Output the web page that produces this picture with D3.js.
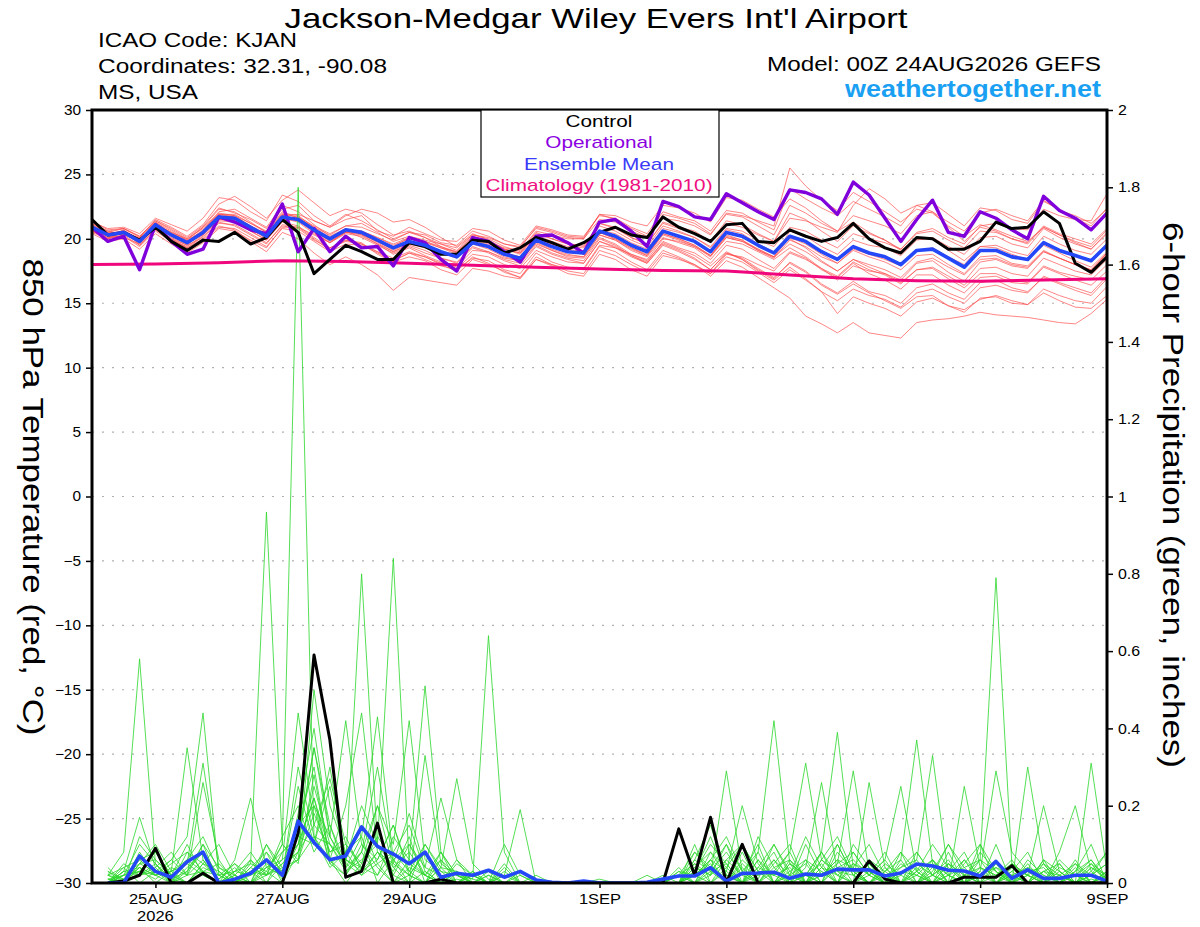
<!DOCTYPE html>
<html>
<head>
<meta charset="utf-8">
<script src="https://cdn.jsdelivr.net/npm/d3@7"></script>
<style>
  body { margin: 0; background: #fff; }
  svg text { font-family: "Liberation Sans", Arial, Helvetica, sans-serif; }
</style>
</head>
<body>
<svg id="chart" width="1200" height="927"></svg>
<script>
// --- text ---
const stationName = "Jackson-Medgar Wiley Evers Int'l Airport";
const headerLeft = ["ICAO Code: KJAN", "Coordinates: 32.31, -90.08", "MS, USA"];
const headerLeftWidths = [199, 289, 100];
const modelRun = "Model: 00Z 24AUG2026 GEFS";
const siteName = "weathertogether.net";
const legendLabels = ["Control", "Operational", "Ensemble Mean", "Climatology (1981-2010)"];
const leftTitle = "850 hPa Temperature (red, \u00B0C)";
const rightTitle = "6-hour Precipitation (green, inches)";

// --- ticks ---
const tempTicks = [-30, -25, -20, -15, -10, -5, 0, 5, 10, 15, 20, 25, 30];
const precipTicks = [0, 0.2, 0.4, 0.6, 0.8, 1, 1.2, 1.4, 1.6, 1.8, 2];
const dateTickDays = [1, 3, 5, 8, 10, 12, 14, 16]; // days after 00Z 24AUG
const dateTickLabels = ["25AUG", "27AUG", "29AUG", "1SEP", "3SEP", "5SEP", "7SEP", "9SEP"];

// --- temperature, 6-hourly from 00Z 24AUG (65 values) ---
const controlTemp = [21.5,20.3,20.5,19.9,20.9, 19.8,19.1,19.9,19.8,20.5, 19.6,20.1,21.5,20.5,17.3,
  18.4,19.5,19.0,18.4,18.4, 19.7,19.4,18.8,18.8,19.9, 19.8,18.9,19.3,20.1,19.7, 19.2,19.7,20.5,20.9,20.3,
  20.1,21.7,20.9,20.4,19.8, 21.1,21.2,19.8,19.7,20.7, 20.2,19.8,20.1,21.2,20.0, 19.3,18.9,20.1,20.0,19.2,
  19.2,19.8,21.3,20.8,20.9, 22.1,21.2,18.1,17.4,18.6];
const operTemp = [20.9,19.8,20.2,17.6,21.1, 19.8,18.8,19.2,21.7,21.3, 20.7,20.4,22.7,19.0,20.8,
  19.0,20.2,19.3,19.4,17.9, 20.1,19.7,18.4,17.5,20.1, 19.8,19.0,18.2,20.2,20.3, 19.7,18.9,21.3,21.5,20.6,
  19.4,22.9,22.5,21.7,21.5, 23.5,22.8,22.1,21.5,23.8, 23.6,23.1,21.9,24.4,23.4, 21.6,19.8,21.5,23.0,20.5,
  20.2,22.1,21.6,20.7,20.0, 23.3,22.2,21.6,20.7,22.0];
const meanTemp = [20.9,20.3,20.5,19.8,21.1, 20.3,19.7,20.5,21.7,21.6, 20.9,20.2,21.7,21.5,20.7,
  20.0,20.7,20.5,19.9,19.3, 19.8,19.5,19.0,18.6,19.7, 19.4,18.8,18.5,19.9,19.4, 19.0,18.9,20.6,20.2,19.5,
  19.0,20.6,20.2,19.8,19.0, 20.5,20.2,19.5,18.9,20.2, 19.8,19.0,18.4,19.4,18.9, 18.6,18.0,19.1,19.2,18.5,
  17.8,19.1,19.1,18.6,18.4, 19.7,19.1,18.7,18.3,19.5];
// daily at 00Z
const climoTemp = [18.0,18.05,18.15,18.3,18.25,18.1,17.95,17.8,17.65,17.55,17.5,17.2,16.9,16.75,16.7,16.8,16.9];

const ensembleTemp = [
  [21.2,20.6,20.3,20.1,21.4, 20.8,20.1,21.0,22.4,22.0, 21.5,20.8,22.3,22.6,21.4, 20.9,21.5,21.8,20.6,20.2, 20.9,20.4,19.9,19.8,20.8, 20.6,19.9,19.5,21.0,20.7, 20.3,20.2,21.8,21.6,20.9, 20.4,22.1,21.7,21.4,20.6, 22.2,22.0,21.3,20.7,23.9, 23.1,22.4,21.8,22.9,22.3, 21.7,21.0,22.6,22.8,21.9, 21.0,22.4,22.2,21.5,21.2, 22.9,22.3,21.6,21.0,22.4],
  [20.6,20.0,20.7,19.5,20.8, 19.9,19.3,20.2,21.2,21.1, 20.4,19.7,21.0,20.8,19.9, 19.3,19.8,19.6,19.0,18.3, 18.9,18.4,17.9,17.6,18.5, 18.3,17.6,17.3,18.9,18.2, 17.8,17.6,19.4,19.0,18.2, 17.6,19.1,18.6,18.0,17.1, 18.3,17.8,17.0,16.2,15.4, 14.0,13.4,12.7,13.5,12.7, 12.5,12.3,13.5,13.7,13.8, 14.0,14.3,14.1,14.0,13.9, 13.7,13.5,13.4,14.2,15.3],
  [20.7,20.2,20.1,19.6,20.9, 20.0,19.5,20.1,21.3,21.0, 20.3,19.6,21.1,20.9,20.0, 19.1,19.9,19.7,18.8,18.2, 18.6,18.3,17.6,17.2,18.4, 18.0,17.5,17.0,18.6,18.0, 17.5,17.3,19.1,18.7,18.0, 17.4,18.9,18.5,17.9,17.3, 18.6,18.2,17.4,16.6,17.6, 16.8,15.9,14.2,15.5,15.0, 14.6,14.0,15.1,15.4,14.8, 14.5,15.3,15.6,15.2,14.9, 15.8,15.2,14.7,14.6,15.6],
  [21.0,20.4,20.6,20.0,21.2, 20.5,19.9,20.6,21.9,21.8, 21.0,20.3,21.9,21.4,20.5, 19.7,20.6,20.1,19.5,18.9, 19.4,18.9,18.5,18.1,19.3, 18.9,18.3,17.9,19.4,18.8, 18.4,18.1,19.8,19.3,18.6, 18.1,19.5,19.0,18.4,17.6, 18.9,18.4,17.6,16.9,18.2, 17.5,16.5,15.8,16.7,15.9, 15.6,15.0,16.2,16.5,15.8, 15.3,16.6,16.8,16.2,15.9, 17.0,16.5,16.0,15.6,16.9],
  [21.3,20.8,20.9,20.4,21.6, 21.1,20.6,21.6,23.2,23.0, 22.1,21.4,23.4,22.9,21.8, 21.0,21.9,21.4,20.7,20.0, 20.5,20.1,19.6,19.1,20.3, 20.0,19.4,19.0,20.5,20.0, 19.6,19.4,21.2,20.9,20.1, 19.6,21.3,20.9,20.6,19.8, 21.4,21.1,20.4,19.8,22.0, 21.5,20.6,19.8,21.0,20.4, 19.9,19.2,20.4,20.6,19.9, 19.3,20.6,20.5,20.0,19.7, 21.0,20.4,20.0,19.6,20.8],
  [20.8,20.1,20.4,19.7,21.0, 20.2,19.6,20.4,21.5,21.5, 20.7,20.1,21.5,21.7,21.0, 20.4,21.0,21.2,20.5,19.8, 20.2,19.9,19.6,19.3,20.3, 20.1,19.6,19.4,20.8,20.5, 20.1,20.0,21.5,21.3,20.6, 20.1,21.6,21.4,21.0,20.3, 22.0,21.8,21.4,21.0,25.5, 24.1,23.0,22.2,23.6,22.9, 22.1,21.3,22.3,22.0,21.0, 20.2,21.1,20.7,20.2,19.8, 20.9,20.3,19.7,19.2,20.4],
  [20.5,20.0,20.3,19.9,20.7, 20.1,19.5,20.6,22.1,22.3, 21.6,20.9,22.6,22.1,21.1, 20.2,20.8,20.3,19.6,18.8, 19.3,18.7,18.2,17.8,19.1, 19.0,18.5,18.3,19.7,19.1, 18.7,18.6,20.3,19.9,19.1, 18.6,20.1,19.7,19.3,18.4, 19.8,19.6,19.0,18.4,19.3, 18.6,17.7,16.8,17.9,17.5, 17.3,16.8,18.1,18.3,17.4, 16.7,18.2,18.4,17.9,17.7, 19.0,18.5,18.0,17.4,18.9],
  [21.1,20.5,20.8,20.2,21.3, 20.4,19.8,20.3,21.4,21.3, 20.6,19.9,21.4,21.6,20.9, 20.3,21.0,20.9,20.4,19.9, 20.5,20.3,19.7,19.5,20.6, 20.2,19.6,19.3,20.9,20.6, 20.2,20.1,21.9,21.5,20.8, 20.2,21.9,21.6,21.2,20.4, 21.9,21.7,21.0,20.3,22.6, 22.0,21.2,20.6,21.8,21.4, 21.0,20.4,21.8,22.1,21.3, 20.6,22.0,22.3,21.8,21.4, 23.0,22.2,21.8,21.2,22.3],
  [20.6,20.1,20.2,19.4,20.6, 19.8,19.2,19.9,20.9,20.8, 20.1,19.4,20.8,20.6,19.8, 19.0,19.6,19.5,18.9,18.3, 18.9,18.6,18.1,17.7,18.8, 18.6,18.0,17.7,19.1,18.6, 18.2,18.1,19.8,19.4,18.7, 18.2,19.8,19.3,18.9,18.1, 19.5,19.2,18.4,17.7,19.0, 18.5,17.6,17.0,18.1,17.3, 16.8,16.1,17.2,17.2,16.4, 15.8,17.0,17.1,16.6,16.5, 17.8,17.3,16.8,16.4,17.5],
  [21.0,20.3,20.6,19.6,20.9, 20.0,19.3,20.0,21.0,20.7, 19.8,19.0,20.5,20.0,18.9, 18.0,18.6,18.0,17.2,16.0, 17.0,16.8,16.6,16.4,17.7, 17.5,17.1,16.9,18.4,18.0, 17.7,17.7,19.5,19.3,18.8, 18.4,20.0,19.8,19.4,18.7, 20.1,19.8,19.2,18.6,19.6, 19.0,18.2,17.5,18.4,18.0, 17.6,17.0,18.2,18.5,17.8, 17.2,18.4,18.5,18.0,17.8, 19.0,18.5,18.0,17.6,18.9],
  [21.2,20.6,20.8,20.1,21.5, 20.9,20.2,21.1,22.7,23.3, 22.5,21.6,23.0,23.8,22.8, 21.8,22.3,22.0,21.1,20.3, 20.6,20.1,19.4,18.9,19.9, 19.5,18.8,18.4,19.8,19.2, 18.8,18.6,20.3,19.9,19.2, 18.7,20.3,19.9,19.4,18.6, 20.1,19.8,19.1,18.5,19.9, 19.4,18.6,18.1,19.2,18.8, 18.4,17.9,19.1,19.3,18.6, 18.0,19.4,19.5,19.0,18.7, 20.2,19.6,19.1,18.8,20.0],
  [20.9,20.2,20.4,19.8,21.0, 20.2,19.6,20.4,21.6,21.4, 20.8,20.0,21.6,21.3,20.4, 19.7,20.4,20.2,19.6,19.0, 19.6,19.3,18.9,18.7,19.9, 19.8,19.3,19.1,20.6,20.3, 20.0,20.0,21.9,21.8,21.3, 21.0,22.6,22.4,22.0,21.3, 23.2,23.0,22.3,21.7,23.1, 22.4,21.4,20.6,21.3,20.5, 19.9,19.1,20.0,20.0,19.1, 18.3,19.4,19.3,18.8,18.4, 19.5,18.9,18.3,17.8,19.0],
  [20.8,20.4,20.5,19.9,21.2, 20.4,19.8,20.7,21.9,21.9, 21.2,20.5,22.0,21.8,20.9, 20.1,20.7,20.4,19.7,19.0, 19.5,19.1,18.5,18.2,19.4, 19.0,18.4,18.1,19.5,18.9, 18.5,18.3,20.0,19.5,18.7, 18.1,19.6,19.1,18.5,17.6, 18.9,18.5,17.7,17.0,18.1, 17.4,16.4,15.7,16.5,15.8, 15.2,14.6,15.5,15.6,14.8, 14.3,15.4,15.5,15.0,14.9, 16.1,15.6,15.2,15.0,16.3],
  [21.0,20.2,20.7,19.9,21.3, 20.6,19.9,20.9,22.0,21.8, 21.2,20.6,22.1,21.6,20.6, 19.8,20.5,20.3,19.8,19.4, 20.1,19.7,19.3,18.8,20.0, 19.6,18.9,18.6,20.1,19.5, 19.0,18.8,20.5,20.0,19.3, 18.7,20.4,20.0,19.5,18.7, 20.3,19.9,19.1,18.6,20.6, 20.2,19.4,18.8,19.9,19.5, 19.3,18.7,19.9,20.1,19.4, 18.8,20.1,20.2,19.6,19.3, 20.8,20.1,19.6,19.2,20.5],
  [20.7,20.3,20.6,20.0,21.1, 20.5,20.0,20.9,22.3,22.1, 21.3,20.5,21.9,21.7,20.8, 20.0,20.7,20.6,20.1,19.6, 20.1,19.8,19.3,19.0,20.1, 19.8,19.2,18.9,20.4,20.0, 19.6,19.5,21.2,20.8,20.1, 19.6,21.2,20.8,20.4,19.7, 21.2,20.9,20.3,19.8,21.6, 21.4,20.9,20.5,22.6,23.9, 23.1,22.0,22.6,22.1,20.9, 19.8,20.9,20.6,20.0,19.6, 20.9,20.3,19.8,19.4,20.7],
  [20.6,20.0,20.3,19.5,20.7, 19.9,19.4,20.3,21.5,21.4, 20.6,19.9,21.3,21.0,20.1, 19.3,19.9,19.6,19.0,18.5, 19.0,18.6,18.0,17.5,18.6, 18.1,17.4,17.0,18.4,17.9, 17.3,17.1,18.8,18.4,17.6, 17.1,18.7,18.4,18.0,17.3, 18.8,18.6,18.0,17.5,18.9, 18.4,17.7,17.1,18.2,17.6, 17.2,16.5,17.6,17.8,17.1, 16.4,17.7,17.8,17.3,17.1, 18.5,18.0,17.5,17.2,18.4],
  [21.4,20.7,20.8,20.2,21.4, 20.7,20.0,20.8,21.9,21.7, 21.0,20.3,21.8,21.5,20.6, 19.9,20.6,20.4,19.8,19.1, 19.7,19.4,19.0,18.6,19.8, 19.4,18.9,18.6,20.1,19.6, 19.2,19.0,20.7,20.4,19.7, 19.2,20.8,20.5,20.1,19.4, 20.8,20.6,19.9,19.4,20.9, 20.6,19.9,19.3,20.4,20.0, 19.7,19.2,20.5,20.8,20.1, 19.6,21.0,21.2,20.8,20.7, 22.3,21.8,21.5,21.4,23.5],
  [20.4,19.8,20.0,19.2,20.4, 19.6,18.9,19.7,20.8,20.6, 19.9,19.3,20.9,20.9,20.3, 19.7,20.5,20.6,20.1,19.5, 20.0,19.8,19.4,19.0,20.2, 19.8,19.2,18.9,20.3,19.8, 19.4,19.3,21.0,20.6,19.9, 19.4,21.0,20.6,20.1,19.3, 20.7,20.4,19.6,19.0,20.0, 19.3,18.3,17.5,18.4,17.8, 17.3,16.6,17.6,17.7,16.9, 16.2,17.3,17.3,16.8,16.6, 17.9,17.4,17.1,16.8,18.0],
  [21.1,20.5,20.5,19.9,21.2, 20.4,19.8,20.6,21.8,21.7, 21.0,20.4,21.8,21.9,21.4, 20.9,21.8,22.3,22.0,21.3, 21.5,20.9,20.1,19.4,20.4, 19.9,19.2,18.8,20.2,19.6, 19.1,18.9,20.5,20.0,19.3, 18.8,20.4,20.0,19.5,18.7, 20.2,19.9,19.2,18.6,20.1, 19.6,18.8,18.1,19.1,18.6, 18.2,17.6,18.7,18.8,18.0, 17.3,18.6,18.7,18.1,17.9, 19.1,18.5,18.0,17.6,18.9],
  [20.9,20.4,20.6,20.0,21.1, 20.3,19.7,20.5,21.6,21.6, 20.9,20.2,21.6,21.4,20.6, 19.9,20.5,20.4,19.8,19.2, 19.7,19.4,18.9,18.5,19.6, 19.2,18.6,18.3,19.6,19.1, 18.6,18.5,20.1,19.6,18.8, 18.3,19.7,19.2,18.7,17.9, 19.0,18.4,17.5,16.8,17.8, 16.9,15.9,15.2,16.1,15.6, 15.3,14.7,15.8,16.1,15.5, 15.0,16.2,16.4,16.0,15.8, 17.1,16.6,16.2,15.8,17.1]
];

// --- 6-hour precipitation, from 06Z 24AUG (64 values) ---
const controlPrecip = [0,0.005,0.02,0.09,0,0,0.025,0, 0,0,0,0,0.13,0.59,0.37,0.015,
  0.03,0.155,0,0,0,0.01,0,0, 0,0,0,0,0,0,0,0, 0,0,0,0,0.14,0.02,0.17,0,
  0.10,0,0,0,0,0,0,0, 0.057,0.01,0,0,0,0,0.015,0.015, 0.015,0.045,0,0,0,0,0,0];
const meanPrecip = [0,0,0.07,0.03,0.015,0.055,0.08,0, 0.01,0.025,0.06,0.02,0.16,0.105,0.06,0.07,
  0.145,0.095,0.075,0.05,0.08,0.015,0.025,0.02, 0.033,0.015,0.03,0.008,0.002,0,0.005,0,
  0,0,0.002,0.01,0.018,0.018,0.04,0.005, 0.025,0.026,0.028,0.012,0.023,0.02,0.036,0.034,
  0.034,0.018,0.026,0.049,0.044,0.033,0.031,0.018, 0.056,0.012,0.034,0.012,0.012,0.02,0.02,0.005];

const ensemblePrecip = [
  [0.02,0.08,0.58,0.05,0.01,0.03,0.10,0.00, 0.00,0.02,0.06,0.01,0.15,0.20,0.05,0.02, 0.10,0.04,0.00,0.02,0.08,0.01,0.00,0.00, 0.02,0,0,0,0,0,0,0, 0,0,0,0,0.02,0.08,0.03,0.00, 0.05,0.01,0.10,0.02,0.00,0.06,0.12,0.03, 0.00,0.04,0.00,0.08,0.02,0.00,0.05,0.10, 0.03,0.00,0.30,0.05,0.00,0.02,0.06,0.01],
  [0.00,0.03,0.17,0.04,0.00,0.08,0.05,0.01, 0.04,0.00,0.10,0.02,0.30,0.12,0.06,0.00, 0.05,0.15,0.02,0.00,0.03,0.00,0.01,0.00, 0,0,0,0,0,0,0,0, 0,0,0,0,0.00,0.03,0.10,0.05, 0.00,0.12,0.04,0.00,0.02,0.00,0.05,0.08, 0.02,0.00,0.00,0.03,0.10,0.04,0.00,0.02, 0.06,0.00,0.02,0.20,0.03,0.00,0.01,0.00],
  [0.01,0.00,0.12,0.06,0.02,0.00,0.03,0.00, 0.00,0.05,0.03,0.00,0.08,0.25,0.10,0.04, 0.12,0.00,0.06,0.10,0.02,0.00,0.00,0.03, 0,0,0,0,0,0,0,0.01, 0,0,0,0,0.04,0.00,0.02,0.06, 0.10,0.03,0.00,0.05,0.02,0.08,0.00,0.04, 0.10,0.02,0.00,0.00,0.06,0.02,0.04,0.00, 0.00,0.05,0.02,0.00,0.08,0.20,0.03,0.00],
  [0.00,0.02,0.05,0.10,0.03,0.35,0.06,0.00, 0.02,0.00,0.04,0.08,0.12,0.35,0.15,0.03, 0.06,0.10,0.00,0.04,0.02,0.00,0.03,0.01, 0.64,0.08,0,0,0,0,0,0, 0,0,0,0,0.00,0.02,0.05,0.00, 0.08,0.00,0.00,0.03,0.06,0.00,0.10,0.02, 0.00,0.00,0.05,0.02,0.00,0.08,0.00,0.03, 0.00,0.02,0.00,0.06,0.00,0.00,0.04,0.01],
  [0.00,0.01,0.03,0.02,0.06,0.12,0.44,0.02, 0.00,0.03,0.00,0.05,0.10,0.22,0.08,0.12, 0.03,0.06,0.15,0.02,0.00,0.04,0.00,0.00, 0.00,0.10,0.02,0,0,0,0,0, 0,0,0,0,0.00,0.06,0.15,0.02, 0.00,0.03,0.08,0.00,0.02,0.05,0.00,0.10, 0.04,0.00,0.03,0.00,0.02,0.00,0.06,0.02, 0.00,0.04,0.02,0.00,0.05,0.00,0.31,0.03],
  [0.03,0.01,0.06,0.08,0.02,0.05,0.31,0.04, 0.01,0.00,0.02,0.10,0.05,0.28,0.06,0.02, 0.08,0.20,0.04,0.00,0.10,0.03,0.00,0.02, 0.00,0.02,0.19,0,0,0,0,0, 0,0,0,0,0.03,0.00,0.08,0.04, 0.00,0.06,0.00,0.02,0.12,0.04,0.00,0.00, 0.06,0.03,0.00,0.02,0.00,0.05,0.02,0.00, 0.10,0.00,0.03,0.00,0.02,0.05,0.00,0.02],
  [0.00,0.02,0.10,0.05,0.00,0.02,0.26,0.06, 0.00,0.04,0.08,0.00,0.18,0.40,0.12,0.05, 0.02,0.08,0.03,0.12,0.00,0.06,0.02,0.00, 0,0,0,0,0,0,0,0, 0,0,0,0,0.00,0.05,0.02,0.29, 0.03,0.00,0.05,0.10,0.00,0.02,0.06,0.00, 0.03,0.00,0.08,0.03,0.00,0.02,0.00,0.04, 0.02,0.00,0.00,0.03,0.05,0.00,0.02,0.00],
  [0.02,0.00,0.04,0.02,0.05,0.08,0.03,0.00, 0.06,0.22,0.04,0.02,0.25,0.10,0.30,0.06, 0.04,0.02,0.08,0.15,0.03,0.00,0.05,0.02, 0.00,0.04,0,0,0,0,0,0, 0,0,0,0.02,0.00,0.10,0.00,0.03, 0.20,0.05,0.00,0.06,0.02,0.00,0.08,0.03, 0.00,0.05,0.02,0.00,0.04,0.00,0.00,0.06, 0.03,0.00,0.05,0.00,0.00,0.03,0.10,0.00],
  [0.00,0.05,0.02,0.03,0.00,0.04,0.08,0.02, 0.03,0.05,0.96,0.10,0.06,0.50,0.20,0.08, 0.15,0.05,0.00,0.06,0.02,0.08,0.00,0.00, 0.02,0,0,0,0,0,0,0, 0,0,0,0,0.02,0.00,0.04,0.10, 0.00,0.08,0.42,0.05,0.00,0.03,0.00,0.05, 0.02,0.00,0.06,0.00,0.03,0.10,0.02,0.00, 0.05,0.00,0.04,0.02,0.00,0.06,0.00,0.03],
  [0.01,0.00,0.08,0.02,0.03,0.00,0.05,0.10, 0.02,0.00,0.03,0.10,1.80,0.12,0.10,0.03, 0.08,0.30,0.05,0.02,0.00,0.04,0.03,0.00, 0,0,0,0,0,0,0,0, 0,0,0,0,0.00,0.02,0.06,0.00, 0.04,0.00,0.03,0.08,0.31,0.06,0.02,0.00, 0.05,0.02,0.00,0.04,0.00,0.02,0.06,0.00, 0.00,0.03,0.00,0.05,0.02,0.00,0.03,0.08],
  [0.04,0.00,0.05,0.06,0.02,0.10,0.02,0.00, 0.03,0.08,0.02,0.06,0.44,0.15,0.27,0.10, 0.04,0.12,0.06,0.00,0.33,0.05,0.02,0.01, 0.00,0.00,0.03,0,0,0,0,0, 0,0,0,0,0.00,0.04,0.08,0.02, 0.00,0.02,0.06,0.00,0.04,0.26,0.03,0.00, 0.02,0.06,0.00,0.00,0.05,0.02,0.00,0.10, 0.00,0.04,0.02,0.00,0.03,0.00,0.02,0.05],
  [0.00,0.03,0.02,0.04,0.08,0.02,0.06,0.01, 0.05,0.02,0.10,0.04,0.08,0.20,0.12,0.42, 0.10,0.06,0.15,0.03,0.00,0.08,0.02,0.00, 0.00,0.03,0,0,0,0,0,0, 0,0,0,0,0.03,0.02,0.00,0.06, 0.02,0.10,0.00,0.05,0.02,0.08,0.39,0.04, 0.00,0.03,0.08,0.00,0.02,0.06,0.00,0.02, 0.04,0.00,0.06,0.02,0.00,0.04,0.00,0.02],
  [0.02,0.01,0.04,0.00,0.03,0.06,0.12,0.03, 0.00,0.06,0.02,0.12,0.20,0.08,0.15,0.05, 0.80,0.10,0.04,0.08,0.02,0.00,0.06,0.00, 0,0,0,0.02,0,0,0,0, 0,0,0,0,0.00,0.08,0.04,0.00, 0.06,0.02,0.03,0.00,0.10,0.02,0.05,0.29, 0.03,0.00,0.02,0.06,0.00,0.03,0.08,0.00, 0.02,0.06,0.00,0.03,0.00,0.02,0.05,0.00],
  [0.00,0.04,0.06,0.02,0.00,0.03,0.08,0.00, 0.02,0.00,0.05,0.03,0.15,0.30,0.06,0.20, 0.44,0.08,0.02,0.10,0.04,0.02,0.00,0.03, 0,0,0,0,0,0,0,0, 0,0,0,0,0.02,0.00,0.06,0.12, 0.03,0.00,0.04,0.06,0.00,0.08,0.02,0.00, 0.26,0.04,0.00,0.03,0.06,0.00,0.02,0.04, 0.00,0.03,0.08,0.00,0.02,0.00,0.04,0.02],
  [0.01,0.02,0.03,0.08,0.02,0.00,0.04,0.02, 0.00,0.03,0.06,0.02,0.10,0.22,0.05,0.08, 0.12,0.43,0.06,0.02,0.08,0.00,0.03,0.00, 0.00,0.02,0,0,0,0,0,0, 0,0,0,0,0.00,0.03,0.12,0.02, 0.00,0.04,0.02,0.00,0.06,0.03,0.00,0.08, 0.02,0.06,0.25,0.03,0.00,0.05,0.02,0.00, 0.04,0.02,0.00,0.06,0.03,0.00,0.02,0.05],
  [0.00,0.00,0.05,0.03,0.06,0.02,0.10,0.04, 0.02,0.06,0.00,0.08,0.12,0.10,0.25,0.06, 0.20,0.10,0.84,0.05,0.02,0.06,0.00,0.02, 0,0,0,0,0,0,0,0, 0,0,0,0,0.00,0.00,0.03,0.08, 0.02,0.00,0.06,0.02,0.00,0.04,0.10,0.02, 0.00,0.03,0.06,0.37,0.05,0.00,0.02,0.06, 0.00,0.02,0.04,0.00,0.06,0.02,0.00,0.03],
  [0.03,0.00,0.02,0.05,0.00,0.06,0.03,0.02, 0.05,0.00,0.08,0.03,0.06,0.18,0.08,0.10, 0.05,0.20,0.10,0.42,0.06,0.03,0.02,0.00, 0.03,0,0,0,0,0,0,0, 0,0,0,0,0.02,0.05,0.00,0.04, 0.10,0.03,0.02,0.08,0.00,0.02,0.06,0.04, 0.00,0.02,0.04,0.06,0.33,0.02,0.00,0.08, 0.03,0.00,0.02,0.05,0.00,0.03,0.06,0.00],
  [0.00,0.03,0.04,0.02,0.03,0.05,0.02,0.00, 0.03,0.02,0.04,0.06,0.10,0.35,0.12,0.04, 0.08,0.02,0.12,0.06,0.51,0.08,0.02,0.00, 0,0,0,0,0,0,0,0, 0,0,0,0,0.00,0.02,0.06,0.03, 0.00,0.06,0.02,0.04,0.00,0.06,0.03,0.02, 0.05,0.00,0.03,0.02,0.06,0.00,0.25,0.04, 0.02,0.05,0.00,0.03,0.02,0.00,0.05,0.02],
  [0.02,0.04,0.00,0.03,0.01,0.00,0.05,0.03, 0.00,0.04,0.02,0.05,0.08,0.15,0.10,0.06, 0.03,0.08,0.05,0.18,0.04,0.22,0.06,0.02, 0.00,0.05,0,0,0,0,0,0, 0,0,0.02,0,0.00,0.04,0.02,0.10, 0.03,0.08,0.00,0.02,0.05,0.00,0.04,0.06, 0.02,0.08,0.00,0.05,0.02,0.10,0.04,0.06, 0.79,0.05,0.02,0.00,0.04,0.02,0.00,0.03],
  [0.00,0.02,0.03,0.01,0.04,0.02,0.03,0.05, 0.01,0.03,0.02,0.04,0.06,0.12,0.04,0.08, 0.02,0.05,0.08,0.03,0.10,0.04,0.27,0.05, 0.01,0.00,0.02,0,0,0,0,0, 0,0,0,0,0.00,0.06,0.03,0.05, 0.00,0.04,0.10,0.03,0.00,0.04,0.02,0.05, 0.03,0.00,0.04,0.08,0.02,0.05,0.00,0.03, 0.29,0.08,0.03,0.04,0.00,0.05,0.02,0.08]
];

// --- colours ---
const colControl = '#000000';
const colOper = '#8000dc';
const colMean = '#2448f8';
const colClimo = '#f0067c';
const colEnsTemp = '#ff4a4a';
const colEnsPrecip = '#2cd82c';
const legendColors = ['#000000', '#8a00e0', '#3a3af8', '#ee1080'];

// --- layout ---
const plot = { left: 92, right: 1107, top: 110, bottom: 883 };
const runStart = Date.UTC(2026, 7, 24, 0);
const stepMs = 6 * 3600 * 1000;
const timeAt = i => new Date(runStart + i * stepMs);

// the original lettering is wider than Liberation Sans at the same height
function fitWidth(sel, width) {
  sel.attr('textLength', width).attr('lengthAdjust', 'spacingAndGlyphs');
}
function widen(sel, factor) {
  sel.each(function() {
    const w = this.getComputedTextLength();
    d3.select(this).attr('textLength', w * factor).attr('lengthAdjust', 'spacingAndGlyphs');
  });
}

const svg = d3.select('#chart');

const x = d3.scaleUtc()
  .domain([timeAt(0), timeAt(64)])
  .range([plot.left, plot.right]);
const yT = d3.scaleLinear().domain([-30, 30]).range([plot.bottom, plot.top]);
const yP = d3.scaleLinear().domain([0, 2]).range([plot.bottom, plot.top]);

svg.append('defs').append('clipPath').attr('id', 'plotClip')
  .append('rect')
  .attr('x', plot.left).attr('y', plot.top)
  .attr('width', plot.right - plot.left).attr('height', plot.bottom - plot.top);

// dotted grid at temperature ticks
svg.append('g')
  .selectAll('line')
  .data(tempTicks.filter(t => t > -30 && t < 30))
  .enter()
  .append('line')
  .attr('x1', plot.left).attr('x2', plot.right)
  .attr('y1', d => yT(d)).attr('y2', d => yT(d))
  .attr('stroke', '#b0b0b0')
  .attr('stroke-width', 1.2)
  .attr('stroke-dasharray', '2,8');

const lines = svg.append('g').attr('clip-path', 'url(#plotClip)');

function drawSeries(values, start, every, yScale, color, width, opacity) {
  const line = d3.line()
    .x((d, i) => x(timeAt(start + i * every)))
    .y(d => yScale(d));
  lines.append('path')
    .datum(values)
    .attr('d', line)
    .attr('fill', 'none')
    .attr('stroke', color)
    .attr('stroke-width', width)
    .attr('stroke-opacity', opacity)
    .attr('stroke-linejoin', 'round');
}

ensembleTemp.forEach(m => drawSeries(m, 0, 1, yT, colEnsTemp, 0.9, 0.75));
ensemblePrecip.forEach(m => drawSeries(m, 1, 1, yP, colEnsPrecip, 0.9, 0.9));

drawSeries(climoTemp, 0, 4, yT, colClimo, 3, 1);
drawSeries(operTemp, 0, 1, yT, colOper, 3.4, 1);
drawSeries(controlTemp, 0, 1, yT, colControl, 3, 1);
drawSeries(meanTemp, 0, 1, yT, colMean, 3.6, 1);
drawSeries(controlPrecip, 1, 1, yP, colControl, 3, 1);
drawSeries(meanPrecip, 1, 1, yP, colMean, 3.6, 1);

// axes
const leftAxis = d3.axisLeft(yT).tickValues(tempTicks).tickSize(6).tickPadding(5);
const rightAxis = d3.axisRight(yP).tickValues(precipTicks).tickSize(6).tickPadding(5)
  .tickFormat(d => String(+d.toFixed(1)));
const bottomAxis = d3.axisBottom(x)
  .tickValues(dateTickDays.map(d => timeAt(d * 4)))
  .tickFormat((d, i) => dateTickLabels[i])
  .tickSize(5).tickPadding(5);

function styleAxis(g, size) {
  g.select('.domain').remove();
  g.selectAll('.tick line').attr('stroke', '#000').attr('stroke-width', 1.5);
  g.selectAll('.tick text').attr('fill', '#000').style('font-size', size + 'px');
  widen(g.selectAll('.tick text'), 1.1);
}

svg.append('g').attr('transform', `translate(${plot.left},0)`).call(leftAxis).call(g => styleAxis(g, 14));
svg.append('g').attr('transform', `translate(${plot.right},0)`).call(rightAxis).call(g => styleAxis(g, 14.5));
svg.append('g').attr('transform', `translate(0,${plot.bottom})`).call(bottomAxis).call(g => styleAxis(g, 15));

svg.append('text')
  .attr('x', x(timeAt(dateTickDays[0] * 4)))
  .attr('y', 921)
  .attr('text-anchor', 'middle')
  .style('font-size', '15px')
  .text('2026')
  .call(t => widen(t, 1.1));

// frame
svg.append('rect')
  .attr('x', plot.left).attr('y', plot.top)
  .attr('width', plot.right - plot.left).attr('height', plot.bottom - plot.top)
  .attr('fill', 'none').attr('stroke', '#000').attr('stroke-width', 3);

// legend
svg.append('rect')
  .attr('x', 481).attr('y', plot.top)
  .attr('width', 238).attr('height', 87)
  .attr('fill', '#fff').attr('stroke', '#000').attr('stroke-width', 1.2);

svg.append('g')
  .selectAll('text')
  .data(legendLabels)
  .enter()
  .append('text')
  .attr('x', 599)
  .attr('y', (d, i) => 127 + i * 21.3)
  .attr('text-anchor', 'middle')
  .attr('fill', (d, i) => legendColors[i])
  .style('font-size', '17px')
  .text(d => d)
  .call(t => widen(t, 1.22));

// header
svg.append('text')
  .attr('x', 596).attr('y', 28)
  .attr('text-anchor', 'middle')
  .style('font-size', '28px')
  .text(stationName)
  .call(t => fitWidth(t, 623));

svg.append('g')
  .selectAll('text')
  .data(headerLeft)
  .enter()
  .append('text')
  .attr('x', 98)
  .attr('y', (d, i) => 47 + i * 26)
  .style('font-size', '20px')
  .text(d => d)
  .each(function(d, i) { fitWidth(d3.select(this), headerLeftWidths[i]); });

svg.append('text')
  .attr('x', 1101).attr('y', 71)
  .attr('text-anchor', 'end')
  .style('font-size', '20px')
  .text(modelRun)
  .call(t => fitWidth(t, 334));

svg.append('text')
  .attr('x', 1101).attr('y', 97)
  .attr('text-anchor', 'end')
  .attr('fill', '#19a0f2')
  .style('font-size', '23px')
  .style('font-weight', 'bold')
  .text(siteName)
  .call(t => fitWidth(t, 256));

// axis titles
svg.append('text')
  .attr('transform', 'translate(23,497) rotate(90)')
  .attr('text-anchor', 'middle')
  .style('font-size', '29px')
  .text(leftTitle)
  .call(t => fitWidth(t, 477));

svg.append('text')
  .attr('transform', 'translate(1163,495) rotate(90)')
  .attr('text-anchor', 'middle')
  .style('font-size', '29px')
  .text(rightTitle)
  .call(t => fitWidth(t, 546));
</script>
</body>
</html>
